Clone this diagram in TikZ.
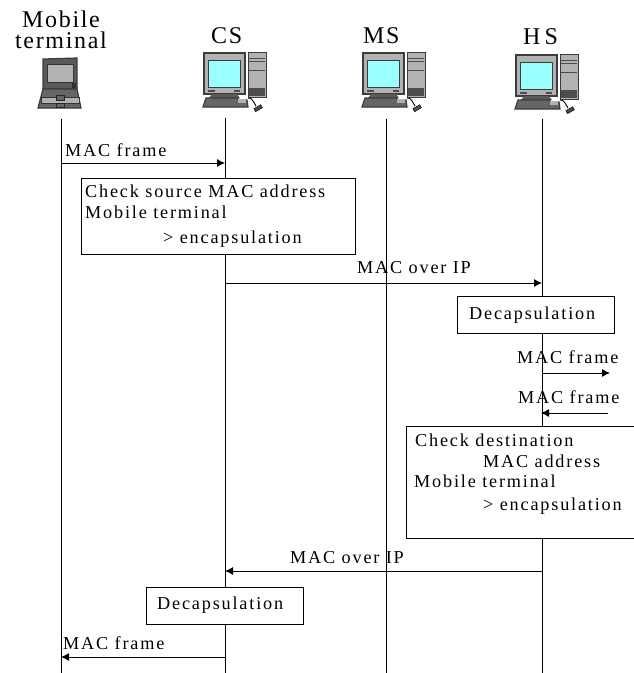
\documentclass[tikz,border=0pt]{standalone}
\usepackage{fontspec}
\setmainfont[LetterSpace=10]{Liberation Serif}
\usetikzlibrary{positioning}
\usetikzlibrary{arrows.meta}
\definecolor{screenblue}{RGB}{153,255,255}
\definecolor{casegray}{RGB}{178,178,178}
\definecolor{edgegray}{RGB}{60,60,60}

\tikzset{
	msg/.style={font=\fontsize{18.2}{20}\selectfont,inner sep=0pt,anchor=base west},
	head/.style={font=\fontsize{24}{21}\selectfont\addfontfeature{LetterSpace=7},align=center,inner sep=0pt},
	note/.style={draw,fill=white,line width=.8pt,anchor=north west,inner sep=0pt},
	life/.style={line width=.8pt},
	call/.style={line width=.9pt,-{Latex[length=8pt,width=8pt]}},
	desktop/.pic={
		\draw[edgegray,line width=1pt,fill=casegray] (44,-1) rectangle (62,44);
		\draw[black!70,line width=.7pt] (45,5) -- (61,5) (45,8) -- (61,8) (45,17) -- (61,17);
		\fill[black!70] (45,35) rectangle (61,43);
		\draw[edgegray,line width=1.2pt,fill=casegray] (0,0) rectangle (41,41);
		\draw[edgegray,line width=1pt,fill=screenblue] (4,7) rectangle (36,34);
		\fill[black!70] (4,36.5) rectangle (11,39);
		\fill[black!70] (30,37) rectangle (36,39);
		\fill[black!65] (8,41) -- (33,41) -- (36,45) -- (5,45) -- cycle;
		\draw[edgegray,line width=1.2pt,fill=black!60] (2,45) -- (34,45) -- (34,47) -- (43,47) -- (44,54) -- (-1,54) -- cycle;
		\fill[casegray] (34,46) rectangle (42,50);
		\draw[black,line width=.9pt] (44,45) .. controls (48,44) and (50,50) .. (52,53);
		\draw[black,fill=black!70,rotate around={30:(54,55)}] (50,53.5) rectangle (58,57);
	},
	laptop/.pic={
		\draw[edgegray,line width=1.2pt,fill=black!65] (0,0) -- (34,-1) -- (34,30) -- (0,30) -- cycle;
		\draw[black!80,line width=.7pt,fill=casegray] (4,5) rectangle (30,23);
		\fill[black!80] (29,24) rectangle (33,29);
		\draw[edgegray,line width=1.2pt,fill=black!60] (0,30) -- (34,30) -- (38,49) -- (-5,49) -- cycle;
		\draw[black!80,line width=.7pt,fill=casegray] (-2,38) rectangle (36,44);
		\draw[black!85,fill=black!60] (13,36) rectangle (21,41);
		\draw[black!85,fill=black!60] (13,44) rectangle (21,48);
	}
}

\begin{document}
\begin{tikzpicture}[x=1pt,y=-1pt]
	\useasboundingbox (0,0) rectangle (634,673);
	
	% heads
	\node[head] (mt) at (61,29.5) {Mobile\\terminal};
	\node[head,anchor=base west] (cs) at (211,43) {CS};
	\node[head,anchor=base west] (ms) at (363,43) {MS};
	\node[head,anchor=base west] (hs) at (523,44) {H\,S};
	\pic at (43,59) {laptop};
	\pic at (204,53) {desktop};
	\pic at (363,53) {desktop};
	\pic at (516,55) {desktop};
	
	% lifelines
	\coordinate (mt top) at (61,119);
	\coordinate (cs top) at (225,118);
	\coordinate (ms top) at (386,119);
	\coordinate (hs top) at (542,119);
	\coordinate (mt bot) at (61,673);
	\coordinate (cs bot) at (225,673);
	\coordinate (ms bot) at (386,673);
	\coordinate (hs bot) at (542,673);
	\draw[life] (mt top) -- (mt bot);
	\draw[life] (cs top) -- (cs bot);
	\draw[life] (ms top) -- (ms bot);
	\draw[life] (hs top) -- (hs bot);
	
	% boxes
	\node[note,minimum width=274pt,minimum height=76pt] (check a) at (81,178) {};
	\node[note,minimum width=157pt,minimum height=37pt] (decap a) at (457,296) {};
	\node[note,minimum width=230pt,minimum height=112pt] (check b) at (406,426) {};
	\node[note,minimum width=157pt,minimum height=37pt] (decap b) at (146,587) {};
	\node[msg] (ta1) at (85,197) {Check source MAC address};
	\node[msg] (ta2) at (85,218) {Mobile terminal};
	\node[msg] (ta3) at (163,243) {> encapsulation};
	\node[msg] (td1) at (469,319) {Decapsulation};
	\node[msg] (tb1) at (415,446) {Check destination};
	\node[msg] (tb2) at (483,467) {MAC address};
	\node[msg] (tb3) at (414,487) {Mobile terminal};
	\node[msg] (tb4) at (483,510) {> encapsulation};
	\node[msg] (td2) at (157,609) {Decapsulation};
	
	% messages
	\coordinate (m1 a) at (61,163);
	\coordinate (m1 b) at (225,163);
	\coordinate (m2 a) at (225,283);
	\coordinate (m2 b) at (542,283);
	\coordinate (m3 a) at (542,373);
	\coordinate (m3 b) at (610,373);
	\coordinate (m4 a) at (608,413);
	\coordinate (m4 b) at (541,413);
	\coordinate (m5 a) at (542,571);
	\coordinate (m5 b) at (225,571);
	\coordinate (m6 a) at (225,657);
	\coordinate (m6 b) at (61,657);
	\draw[call] (m1 a) -- (m1 b);
	\draw[call] (m2 a) -- (m2 b);
	\draw[call] (m3 a) -- (m3 b);
	\draw[call] (m4 a) -- (m4 b);
	\draw[call] (m5 a) -- (m5 b);
	\draw[call] (m6 a) -- (m6 b);
	\node[msg] (l1) at (65,156) {MAC frame};
	\node[msg] (l2) at (357,273) {MAC over IP};
	\node[msg] (l3) at (517,363) {MAC frame};
	\node[msg] (l4) at (518,403) {MAC frame};
	\node[msg] (l5) at (290,563) {MAC over IP};
	\node[msg] (l6) at (63,649) {MAC frame};
\end{tikzpicture}
\end{document}
